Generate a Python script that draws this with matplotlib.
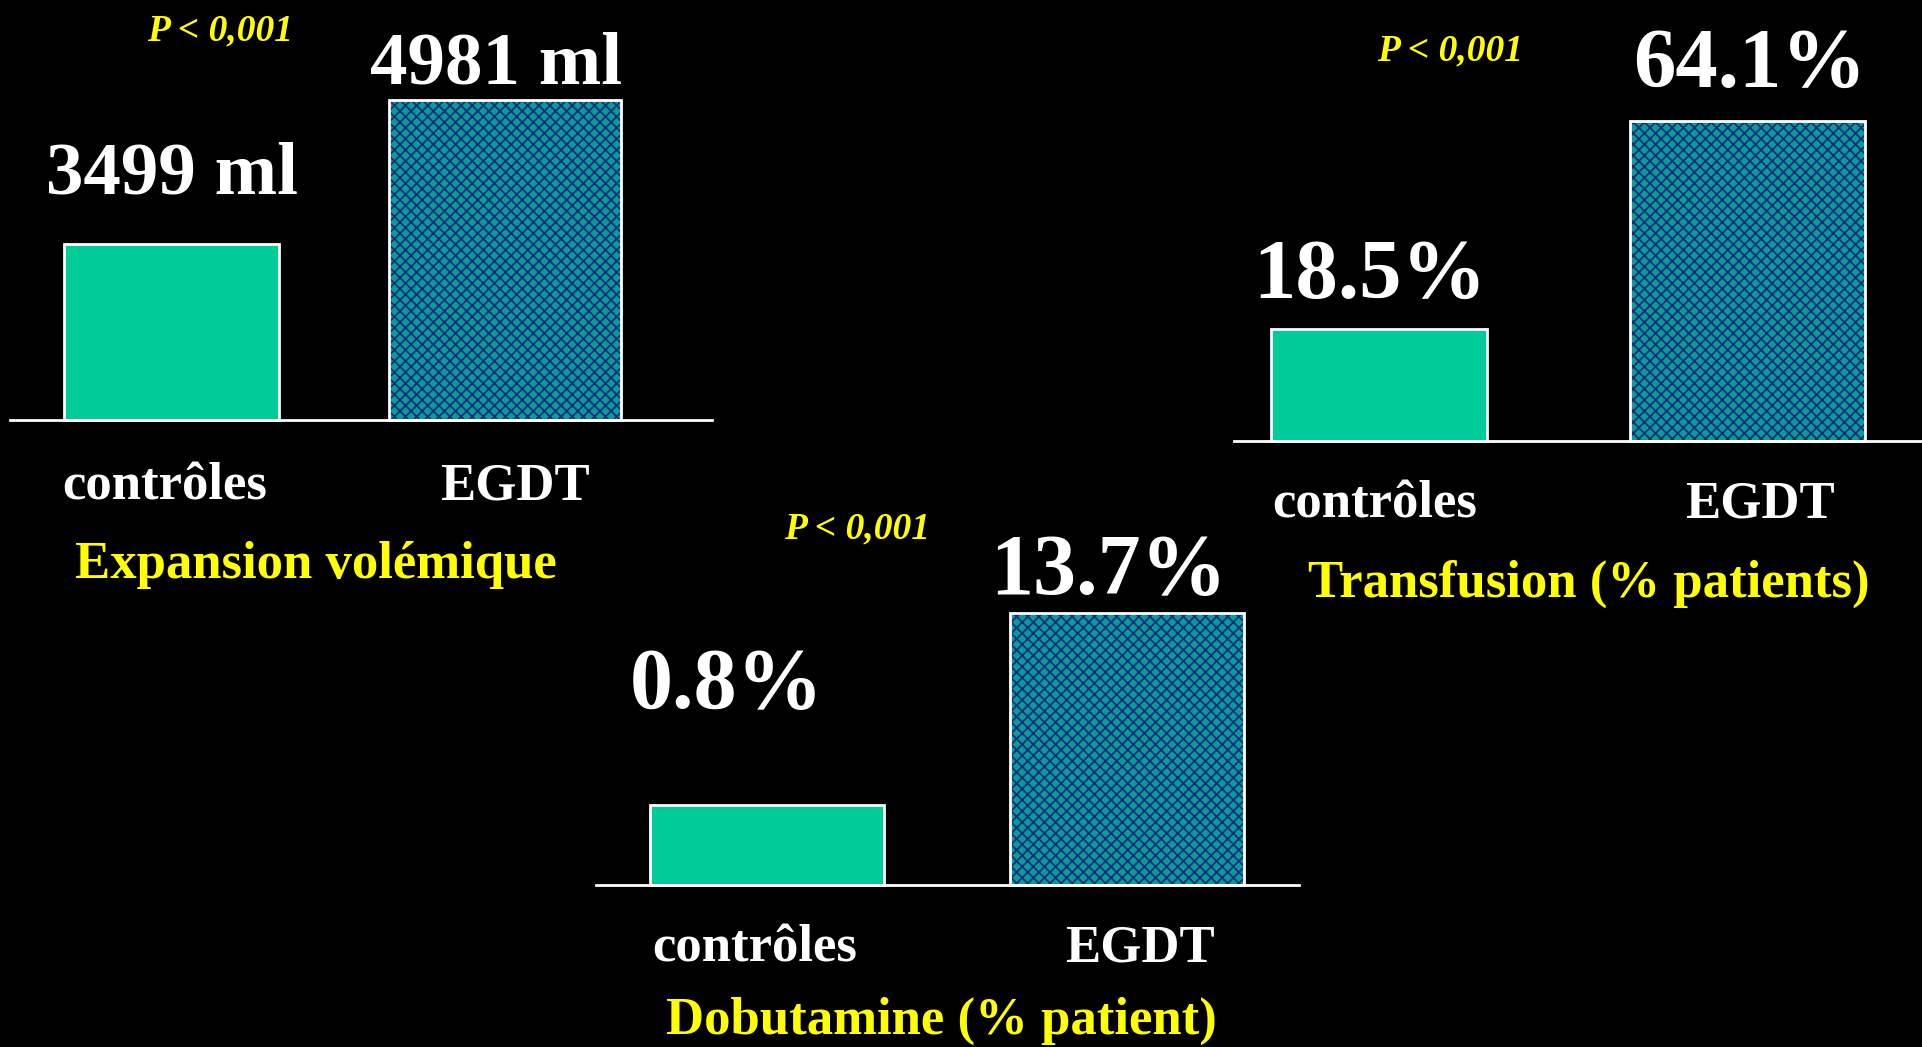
import matplotlib
matplotlib.use("Agg")
import matplotlib.pyplot as plt

plt.rcParams['font.family'] = ['Liberation Serif', 'DejaVu Serif']
plt.rcParams['hatch.linewidth'] = 1.3

W, H = 1922, 1047

groupes = ['contrôles', 'EGDT']

# valeurs des trois études
expansion_ml = [3499, 4981]
transfusion_pct = [18.5, 64.1]
dobutamine_pct = [0.8, 13.7]

titres = ['Expansion volémique', 'Transfusion (% patients)', 'Dobutamine (% patient)']
p_valeur = 'P < 0,001'

VERT = '#00cc99'
TEAL = '#0a9a9a'
MARINE = '#12307a'
JAUNE = '#ffff00'

fig = plt.figure(figsize=(W / 100, H / 100), dpi=100, facecolor='black')


def fx(px):
    return px / W


def fy(py):
    return 1 - py / H


def panneau(gauche, droite, base, haut, xlim, plancher, largeurs, valeurs):
    ax = fig.add_axes([fx(gauche), fy(base), fx(droite - gauche), (base - haut) / H])
    ax.set_facecolor('black')
    ax.set_xlim(*xlim)
    ax.set_ylim(plancher, valeurs[1])
    for s in ['top', 'left', 'right']:
        ax.spines[s].set_visible(False)
    ax.spines['bottom'].set_color('white')
    ax.spines['bottom'].set_linewidth(2)
    ax.set_xticks([])
    ax.set_yticks([])

    hauteurs = [v - plancher for v in valeurs]
    # contrôles : aplat vert
    ax.bar(0, hauteurs[0], bottom=plancher, width=largeurs[0], color=VERT,
           edgecolor='white', linewidth=2, zorder=2, clip_on=False)
    # EGDT : fond sarcelle avec trame bleu marine
    ax.bar(1, hauteurs[1], bottom=plancher, width=largeurs[1], facecolor=TEAL,
           edgecolor=MARINE, hatch='xxx', linewidth=0, zorder=2, clip_on=False)
    ax.bar(1, hauteurs[1], bottom=plancher, width=largeurs[1], facecolor='none',
           edgecolor='white', linewidth=2, zorder=3, clip_on=False)
    return ax


def texte(px, py, s, taille, couleur='white', style='normal'):
    fig.text(fx(px), fy(py), s, ha='center', va='baseline', fontsize=taille,
             fontweight='bold', fontstyle=style, color=couleur)


# Expansion volémique
panneau(10, 712, 420, 100, (-0.484, 1.621), 1680, [0.645, 0.696], expansion_ml)
texte(220, 40, p_valeur, 27, JAUNE, 'italic')
texte(172, 193, f'{expansion_ml[0]} ml', 54)
texte(496, 83, f'{expansion_ml[1]} ml', 54)
texte(165, 500, groupes[0], 38)
texte(515, 500, groupes[1], 38)
texte(316, 578, titres[0], 38, JAUNE)

# Transfusion
panneau(1234, 1922, 441, 121, (-0.393, 1.474), -6.05, [0.586, 0.638], transfusion_pct)
texte(1450, 60, p_valeur, 27, JAUNE, 'italic')
texte(1370, 298, f'{transfusion_pct[0]}%', 61)
texte(1750, 87, f'{transfusion_pct[1]}%', 61)
texte(1375, 518, groupes[0], 38)
texte(1760, 518, groupes[1], 38)
texte(1589, 597, titres[1], 38, JAUNE)

# Dobutamine
panneau(596, 1299, 885, 613, (-0.475, 1.478), -4.61, [0.65, 0.65], dobutamine_pct)
texte(857, 538, p_valeur, 27, JAUNE, 'italic')
texte(727, 708, f'{dobutamine_pct[0]}%', 62)
texte(1109, 594, f'{dobutamine_pct[1]}%', 62)
texte(755, 962, groupes[0], 38)
texte(1140, 962, groupes[1], 38)
texte(941, 1034, titres[2], 38, JAUNE)

fig.savefig('out.png', dpi=100, facecolor='black')
